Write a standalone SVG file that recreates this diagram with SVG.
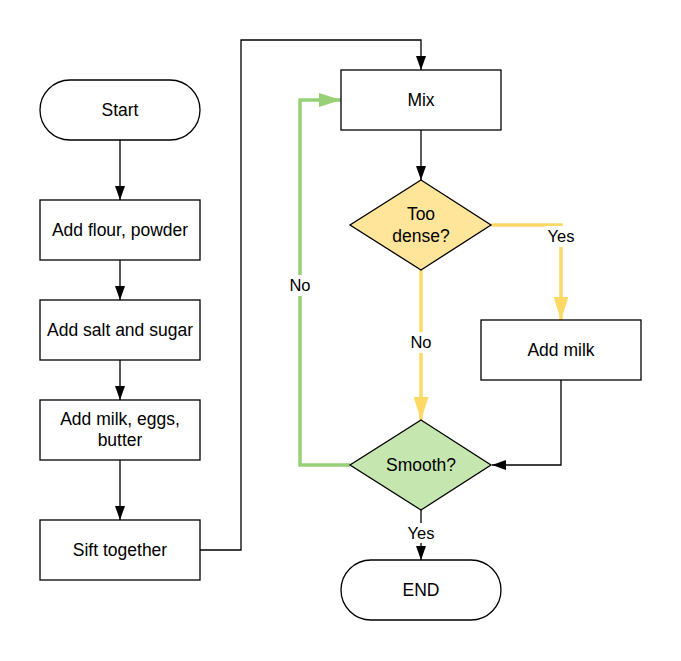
<svg xmlns="http://www.w3.org/2000/svg" width="681" height="661" viewBox="0 0 681 661">
<style>
.box{fill:#fff;stroke:#000;stroke-width:1.3}
.t{font-family:"Liberation Sans",Arial,sans-serif;font-size:17.5px;fill:#000;text-anchor:middle;dominant-baseline:central}
.lbl{font-family:"Liberation Sans",Arial,sans-serif;font-size:16.5px;fill:#000;text-anchor:middle;dominant-baseline:central}
.c{fill:none;stroke:#000;stroke-width:1.3}
.cg{fill:none;stroke:#97D077;stroke-width:3.5}
.cy{fill:none;stroke:#FFD966;stroke-width:3.5}
</style>
<defs>
<marker id="ab" markerUnits="userSpaceOnUse" markerWidth="14" markerHeight="10" refX="14" refY="5" orient="auto"><path d="M0,0 L14,5 L0,10 z" fill="#000"/></marker>
<marker id="ag" markerUnits="userSpaceOnUse" markerWidth="22" markerHeight="14" refX="22" refY="7" orient="auto"><path d="M0,0 L22,7 L0,14 z" fill="#97D077"/></marker>
<marker id="ay" markerUnits="userSpaceOnUse" markerWidth="23" markerHeight="15" refX="23" refY="7.5" orient="auto"><path d="M0,0 L23,7.5 L0,15 z" fill="#FFD966"/></marker>
</defs>
<rect width="681" height="661" fill="#fff"/>
<g id="connectors">
<path class="c" d="M120,140 V200" marker-end="url(#ab)"/>
<path class="c" d="M120,260 V300" marker-end="url(#ab)"/>
<path class="c" d="M120,360 V400" marker-end="url(#ab)"/>
<path class="c" d="M120,460 V520" marker-end="url(#ab)"/>
<path class="c" d="M200,550 H241 V40 H421 V70" stroke="#555" marker-end="url(#ab)"/>
<path class="c" d="M421,130 V180" marker-end="url(#ab)"/>
<path class="cy" d="M491,225 H561 V320" marker-end="url(#ay)"/>
<path class="cy" d="M421,270 V420" marker-end="url(#ay)"/>
<path class="c" d="M561,380 V465 H492" marker-end="url(#ab)"/>
<path class="cg" d="M350,465 H300 V100 H341" marker-end="url(#ag)"/>
<path class="c" d="M421,510 V560" marker-end="url(#ab)"/>
<rect x="545" y="226" width="32" height="21" fill="#fff"/>
<text class="lbl" x="561" y="236">Yes</text>
<rect x="408" y="332" width="26" height="21" fill="#fff"/>
<text class="lbl" x="421" y="342">No</text>
<rect x="287" y="275" width="26" height="21" fill="#fff"/>
<text class="lbl" x="300" y="285">No</text>
<rect x="405" y="523" width="32" height="20" fill="#fff"/>
<text class="lbl" x="421" y="533">Yes</text>
</g>
<g id="start"><rect class="box" x="40" y="80" width="160" height="60" rx="30" ry="30"/><text class="t" x="120" y="110">Start</text></g>
<g id="flour"><rect class="box" x="40" y="200" width="160" height="60"/><text class="t" x="120" y="230">Add flour, powder</text></g>
<g id="salt"><rect class="box" x="40" y="300" width="160" height="60"/><text class="t" x="120" y="330">Add salt and sugar</text></g>
<g id="milkeggs"><rect class="box" x="40" y="400" width="160" height="60"/><text class="t" x="120" y="419">Add milk, eggs,</text><text class="t" x="120" y="440">butter</text></g>
<g id="sift"><rect class="box" x="40" y="520" width="160" height="60"/><text class="t" x="120" y="550">Sift together</text></g>
<g id="mix"><rect class="box" x="341" y="70" width="160" height="60"/><text class="t" x="421" y="100">Mix</text></g>
<g id="dense"><path d="M421,180 L491,225 L421,270 L350,225 z" fill="#FFE599" stroke="#000" stroke-width="1.3"/><text class="t" x="421" y="214">Too</text><text class="t" x="421" y="236">dense?</text></g>
<g id="addmilk"><rect class="box" x="481" y="320" width="160" height="60"/><text class="t" x="561" y="350">Add milk</text></g>
<g id="smooth"><path d="M421,420 L491,465 L421,510 L350,465 z" fill="#C6E6B0" stroke="#000" stroke-width="1.3"/><text class="t" x="421" y="465">Smooth?</text></g>
<g id="end"><rect class="box" x="341" y="560" width="160" height="60" rx="30" ry="30"/><text class="t" x="421" y="590">END</text></g>
</svg>
